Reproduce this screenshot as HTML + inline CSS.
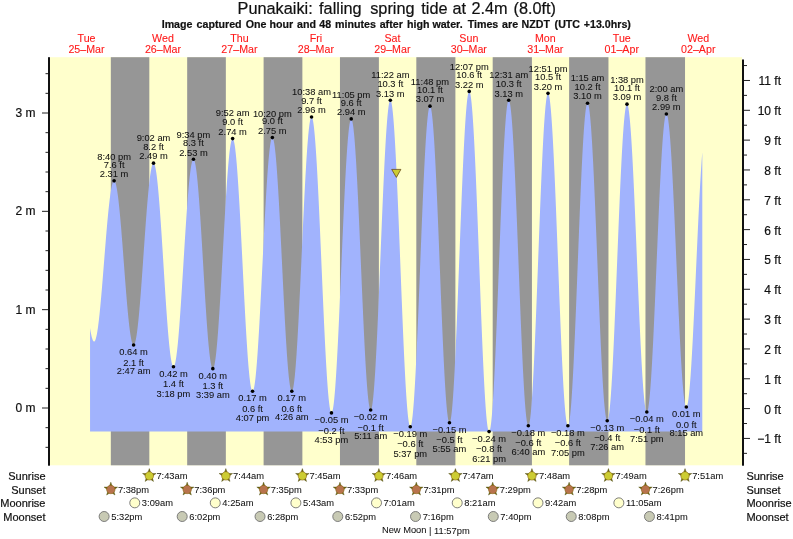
<!DOCTYPE html>
<html><head><meta charset="utf-8"><title>Punakaiki tide times</title>
<style>html,body{margin:0;padding:0;background:#fff}svg{display:block}text{font-family:"Liberation Sans",Arial,Helvetica,sans-serif;fill:#111;stroke:#111;stroke-width:0.2px}.t7{font-size:9.33px;stroke-width:0.05px}.t8{font-size:10.67px}.t9{font-size:12px}.red{fill:#ff1a1a;stroke:#ff1a1a;stroke-width:0.1px}</style></head><body>
<svg width="793" height="539" viewBox="0 0 793 539">
<rect width="793" height="539" fill="#fff"/>
<rect x="50" y="57.2" width="692" height="408.1" fill="#ffffcc"/>
<rect x="110.82" y="57.2" width="38.50" height="408.1" fill="#969696"/>
<rect x="187.18" y="57.2" width="38.66" height="408.1" fill="#969696"/>
<rect x="263.60" y="57.2" width="38.77" height="408.1" fill="#969696"/>
<rect x="339.96" y="57.2" width="38.93" height="408.1" fill="#969696"/>
<rect x="416.32" y="57.2" width="39.08" height="408.1" fill="#969696"/>
<rect x="492.69" y="57.2" width="39.24" height="408.1" fill="#969696"/>
<rect x="569.11" y="57.2" width="39.35" height="408.1" fill="#969696"/>
<rect x="645.47" y="57.2" width="39.56" height="408.1" fill="#969696"/>
<path d="M90.05,431.50L90.05,328.12L90.30,329.68L90.55,331.16L90.80,332.54L91.05,333.84L91.30,335.04L91.55,336.14L91.80,337.15L92.05,338.06L92.30,338.86L92.55,339.57L92.80,340.17L93.05,340.66L93.30,341.06L93.55,341.34L93.80,341.52L94.05,341.60L94.30,341.56L94.55,341.40L94.80,341.12L95.05,340.71L95.30,340.18L95.55,339.53L95.80,338.75L96.05,337.86L96.30,336.85L96.55,335.73L96.80,334.49L97.05,333.13L97.30,331.67L97.55,330.09L97.80,328.42L98.05,326.63L98.30,324.75L98.55,322.77L98.80,320.69L99.05,318.52L99.30,316.27L99.55,313.93L99.80,311.51L100.05,309.01L100.30,306.43L100.55,303.79L100.80,301.08L101.05,298.31L101.30,295.49L101.55,292.61L101.80,289.68L102.05,286.71L102.30,283.70L102.55,280.65L102.80,277.58L103.05,274.48L103.30,271.35L103.55,268.22L103.80,265.07L104.05,261.92L104.30,258.76L104.55,255.61L104.80,252.47L105.05,249.34L105.30,246.23L105.55,243.15L105.80,240.09L106.05,237.06L106.30,234.07L106.55,231.12L106.80,228.22L107.05,225.37L107.30,222.58L107.55,219.84L107.80,217.17L108.05,214.57L108.30,212.03L108.55,209.58L108.80,207.20L109.05,204.91L109.30,202.70L109.55,200.58L109.80,198.56L110.05,196.64L110.30,194.81L110.55,193.08L110.80,191.46L111.05,189.95L111.30,188.55L111.55,187.26L111.80,186.08L112.05,185.02L112.30,184.08L112.55,183.25L112.80,182.55L113.05,181.97L113.30,181.51L113.55,181.17L113.80,180.95L114.05,180.86L114.30,180.90L114.55,181.06L114.80,181.37L115.05,181.80L115.30,182.37L115.55,183.06L115.80,183.89L116.05,184.84L116.30,185.92L116.55,187.13L116.80,188.46L117.05,189.91L117.30,191.48L117.55,193.17L117.80,194.97L118.05,196.87L118.30,198.89L118.55,201.01L118.80,203.23L119.05,205.55L119.30,207.96L119.55,210.46L119.80,213.05L120.05,215.72L120.30,218.46L120.55,221.28L120.80,224.16L121.05,227.11L121.30,230.11L121.55,233.17L121.80,236.28L122.05,239.42L122.30,242.61L122.55,245.83L122.80,249.08L123.05,252.35L123.30,255.64L123.55,258.94L123.80,262.25L124.05,265.56L124.30,268.86L124.55,272.16L124.80,275.44L125.05,278.70L125.30,281.93L125.55,285.13L125.80,288.30L126.05,291.43L126.30,294.51L126.55,297.54L126.80,300.51L127.05,303.42L127.30,306.26L127.55,309.04L127.80,311.74L128.05,314.36L128.30,316.90L128.55,319.35L128.80,321.71L129.05,323.97L129.30,326.14L129.55,328.20L129.80,330.15L130.05,332.00L130.30,333.73L130.55,335.35L130.80,336.86L131.05,338.24L131.30,339.50L131.55,340.63L131.80,341.64L132.05,342.52L132.30,343.28L132.55,343.90L132.80,344.39L133.05,344.75L133.30,344.97L133.55,345.07L133.80,345.02L134.05,344.84L134.30,344.51L134.55,344.05L134.80,343.44L135.05,342.69L135.30,341.81L135.55,340.79L135.80,339.64L136.05,338.35L136.30,336.93L136.55,335.39L136.80,333.71L137.05,331.91L137.30,330.00L137.55,327.96L137.80,325.81L138.05,323.55L138.30,321.18L138.55,318.70L138.80,316.13L139.05,313.45L139.30,310.69L139.55,307.84L139.80,304.90L140.05,301.89L140.30,298.80L140.55,295.64L140.80,292.42L141.05,289.13L141.30,285.80L141.55,282.41L141.80,278.98L142.05,275.51L142.30,272.01L142.55,268.48L142.80,264.93L143.05,261.36L143.30,257.78L143.55,254.19L143.80,250.61L144.05,247.02L144.30,243.45L144.55,239.90L144.80,236.37L145.05,232.87L145.30,229.40L145.55,225.96L145.80,222.58L146.05,219.24L146.30,215.95L146.55,212.73L146.80,209.56L147.05,206.47L147.30,203.45L147.55,200.51L147.80,197.66L148.05,194.89L148.30,192.22L148.55,189.64L148.80,187.16L149.05,184.78L149.30,182.51L149.55,180.36L149.80,178.32L150.05,176.39L150.30,174.59L150.55,172.91L150.80,171.36L151.05,169.94L151.30,168.64L151.55,167.48L151.80,166.46L152.05,165.57L152.30,164.82L152.55,164.20L152.80,163.73L153.05,163.40L153.30,163.21L153.55,163.16L153.80,163.26L154.05,163.52L154.30,163.94L154.55,164.51L154.80,165.24L155.05,166.12L155.30,167.16L155.55,168.34L155.80,169.68L156.05,171.16L156.30,172.79L156.55,174.56L156.80,176.47L157.05,178.52L157.30,180.70L157.55,183.01L157.80,185.45L158.05,188.01L158.30,190.69L158.55,193.49L158.80,196.39L159.05,199.40L159.30,202.52L159.55,205.73L159.80,209.03L160.05,212.41L160.30,215.88L160.55,219.43L160.80,223.04L161.05,226.72L161.30,230.46L161.55,234.25L161.80,238.09L162.05,241.97L162.30,245.89L162.55,249.84L162.80,253.81L163.05,257.79L163.30,261.79L163.55,265.79L163.80,269.80L164.05,273.79L164.30,277.77L164.55,281.73L164.80,285.66L165.05,289.57L165.30,293.43L165.55,297.25L165.80,301.02L166.05,304.73L166.30,308.39L166.55,311.97L166.80,315.48L167.05,318.92L167.30,322.27L167.55,325.53L167.80,328.70L168.05,331.77L168.30,334.74L168.55,337.59L168.80,340.34L169.05,342.97L169.30,345.48L169.55,347.86L169.80,350.12L170.05,352.24L170.30,354.23L170.55,356.08L170.80,357.79L171.05,359.36L171.30,360.78L171.55,362.05L171.80,363.17L172.05,364.14L172.30,364.95L172.55,365.61L172.80,366.12L173.05,366.47L173.30,366.66L173.55,366.70L173.80,366.57L174.05,366.28L174.30,365.84L174.55,365.23L174.80,364.47L175.05,363.55L175.30,362.48L175.55,361.25L175.80,359.86L176.05,358.33L176.30,356.65L176.55,354.83L176.80,352.86L177.05,350.76L177.30,348.52L177.55,346.14L177.80,343.64L178.05,341.02L178.30,338.27L178.55,335.40L178.80,332.43L179.05,329.35L179.30,326.16L179.55,322.87L179.80,319.50L180.05,316.03L180.30,312.49L180.55,308.86L180.80,305.17L181.05,301.41L181.30,297.59L181.55,293.72L181.80,289.80L182.05,285.84L182.30,281.84L182.55,277.82L182.80,273.77L183.05,269.70L183.30,265.63L183.55,261.55L183.80,257.47L184.05,253.40L184.30,249.34L184.55,245.31L184.80,241.30L185.05,237.33L185.30,233.40L185.55,229.51L185.80,225.68L186.05,221.90L186.30,218.18L186.55,214.54L186.80,210.97L187.05,207.48L187.30,204.07L187.55,200.76L187.80,197.54L188.05,194.43L188.30,191.42L188.55,188.52L188.80,185.74L189.05,183.07L189.30,180.53L189.55,178.12L189.80,175.84L190.05,173.69L190.30,171.68L190.55,169.81L190.80,168.09L191.05,166.51L191.30,165.09L191.55,163.81L191.80,162.69L192.05,161.72L192.30,160.91L192.55,160.26L192.80,159.76L193.05,159.43L193.30,159.25L193.55,159.24L193.80,159.40L194.05,159.73L194.30,160.22L194.55,160.89L194.80,161.73L195.05,162.74L195.30,163.91L195.55,165.25L195.80,166.75L196.05,168.41L196.30,170.22L196.55,172.19L196.80,174.31L197.05,176.58L197.30,178.99L197.55,181.54L197.80,184.23L198.05,187.04L198.30,189.99L198.55,193.05L198.80,196.23L199.05,199.52L199.30,202.92L199.55,206.42L199.80,210.01L200.05,213.69L200.30,217.45L200.55,221.29L200.80,225.20L201.05,229.17L201.30,233.20L201.55,237.28L201.80,241.41L202.05,245.57L202.30,249.76L202.55,253.98L202.80,258.21L203.05,262.45L203.30,266.69L203.55,270.93L203.80,275.16L204.05,279.36L204.30,283.55L204.55,287.70L204.80,291.81L205.05,295.88L205.30,299.89L205.55,303.85L205.80,307.74L206.05,311.55L206.30,315.29L206.55,318.95L206.80,322.51L207.05,325.98L207.30,329.35L207.55,332.61L207.80,335.75L208.05,338.78L208.30,341.69L208.55,344.47L208.80,347.11L209.05,349.62L209.30,351.99L209.55,354.22L209.80,356.29L210.05,358.22L210.30,359.99L210.55,361.60L210.80,363.05L211.05,364.34L211.30,365.47L211.55,366.42L211.80,367.21L212.05,367.83L212.30,368.28L212.55,368.56L212.80,368.67L213.05,368.60L213.30,368.35L213.55,367.92L213.80,367.31L214.05,366.52L214.30,365.55L214.55,364.41L214.80,363.10L215.05,361.61L215.30,359.95L215.55,358.13L215.80,356.14L216.05,353.99L216.30,351.68L216.55,349.22L216.80,346.60L217.05,343.84L217.30,340.94L217.55,337.91L217.80,334.74L218.05,331.44L218.30,328.02L218.55,324.48L218.80,320.83L219.05,317.08L219.30,313.22L219.55,309.28L219.80,305.24L220.05,301.13L220.30,296.94L220.55,292.68L220.80,288.36L221.05,283.98L221.30,279.56L221.55,275.09L221.80,270.60L222.05,266.07L222.30,261.53L222.55,256.97L222.80,252.41L223.05,247.85L223.30,243.30L223.55,238.77L223.80,234.26L224.05,229.78L224.30,225.34L224.55,220.94L224.80,216.59L225.05,212.30L225.30,208.08L225.55,203.93L225.80,199.85L226.05,195.86L226.30,191.96L226.55,188.16L226.80,184.46L227.05,180.87L227.30,177.40L227.55,174.04L227.80,170.81L228.05,167.71L228.30,164.74L228.55,161.92L228.80,159.24L229.05,156.70L229.30,154.32L229.55,152.10L229.80,150.03L230.05,148.13L230.30,146.39L230.55,144.82L230.80,143.43L231.05,142.20L231.30,141.16L231.55,140.28L231.80,139.59L232.05,139.08L232.30,138.74L232.55,138.59L232.80,138.62L233.05,138.84L233.30,139.26L233.55,139.88L233.80,140.69L234.05,141.70L234.30,142.90L234.55,144.28L234.80,145.86L235.05,147.62L235.30,149.56L235.55,151.68L235.80,153.98L236.05,156.45L236.30,159.08L236.55,161.89L236.80,164.85L237.05,167.97L237.30,171.24L237.55,174.66L237.80,178.21L238.05,181.90L238.30,185.72L238.55,189.67L238.80,193.73L239.05,197.90L239.30,202.17L239.55,206.55L239.80,211.01L240.05,215.56L240.30,220.18L240.55,224.88L240.80,229.63L241.05,234.44L241.30,239.30L241.55,244.20L241.80,249.13L242.05,254.09L242.30,259.06L242.55,264.04L242.80,269.02L243.05,274.00L243.30,278.96L243.55,283.90L243.80,288.81L244.05,293.68L244.30,298.51L244.55,303.29L244.80,308.01L245.05,312.66L245.30,317.23L245.55,321.73L245.80,326.13L246.05,330.44L246.30,334.65L246.55,338.75L246.80,342.74L247.05,346.61L247.30,350.34L247.55,353.95L247.80,357.41L248.05,360.74L248.30,363.91L248.55,366.93L248.80,369.79L249.05,372.49L249.30,375.02L249.55,377.38L249.80,379.56L250.05,381.57L250.30,383.40L250.55,385.04L250.80,386.49L251.05,387.75L251.30,388.83L251.55,389.71L251.80,390.40L252.05,390.89L252.30,391.18L252.55,391.28L252.80,391.19L253.05,390.89L253.30,390.39L253.55,389.70L253.80,388.81L254.05,387.72L254.30,386.44L254.55,384.97L254.80,383.30L255.05,381.46L255.30,379.42L255.55,377.21L255.80,374.82L256.05,372.26L256.30,369.52L256.55,366.62L256.80,363.56L257.05,360.35L257.30,356.98L257.55,353.47L257.80,349.82L258.05,346.03L258.30,342.12L258.55,338.08L258.80,333.93L259.05,329.67L259.30,325.31L259.55,320.85L259.80,316.30L260.05,311.67L260.30,306.97L260.55,302.20L260.80,297.37L261.05,292.48L261.30,287.56L261.55,282.60L261.80,277.61L262.05,272.59L262.30,267.57L262.55,262.54L262.80,257.51L263.05,252.50L263.30,247.50L263.55,242.53L263.80,237.60L264.05,232.70L264.30,227.86L264.55,223.07L264.80,218.35L265.05,213.71L265.30,209.14L265.55,204.65L265.80,200.27L266.05,195.98L266.30,191.80L266.55,187.74L266.80,183.79L267.05,179.97L267.30,176.29L267.55,172.74L267.80,169.34L268.05,166.09L268.30,162.99L268.55,160.05L268.80,157.28L269.05,154.67L269.30,152.24L269.55,149.98L269.80,147.90L270.05,146.01L270.30,144.30L270.55,142.78L270.80,141.45L271.05,140.32L271.30,139.38L271.55,138.64L271.80,138.09L272.05,137.75L272.30,137.60L272.55,137.65L272.80,137.91L273.05,138.38L273.30,139.06L273.55,139.93L273.80,141.01L274.05,142.30L274.30,143.78L274.55,145.46L274.80,147.33L275.05,149.40L275.30,151.65L275.55,154.09L275.80,156.71L276.05,159.50L276.30,162.46L276.55,165.59L276.80,168.89L277.05,172.33L277.30,175.93L277.55,179.68L277.80,183.56L278.05,187.57L278.30,191.71L278.55,195.97L278.80,200.34L279.05,204.81L279.30,209.38L279.55,214.04L279.80,218.79L280.05,223.61L280.30,228.49L280.55,233.43L280.80,238.43L281.05,243.47L281.30,248.54L281.55,253.63L281.80,258.75L282.05,263.87L282.30,269.00L282.55,274.11L282.80,279.21L283.05,284.29L283.30,289.34L283.55,294.34L283.80,299.30L284.05,304.20L284.30,309.03L284.55,313.79L284.80,318.47L285.05,323.06L285.30,327.56L285.55,331.95L285.80,336.24L286.05,340.40L286.30,344.44L286.55,348.35L286.80,352.13L287.05,355.76L287.30,359.24L287.55,362.57L287.80,365.74L288.05,368.74L288.30,371.57L288.55,374.22L288.80,376.70L289.05,379.00L289.30,381.10L289.55,383.02L289.80,384.74L290.05,386.27L290.30,387.59L290.55,388.72L290.80,389.64L291.05,390.36L291.30,390.88L291.55,391.18L291.80,391.28L292.05,391.17L292.30,390.84L292.55,390.30L292.80,389.54L293.05,388.56L293.30,387.38L293.55,385.98L293.80,384.37L294.05,382.56L294.30,380.55L294.55,378.33L294.80,375.92L295.05,373.32L295.30,370.53L295.55,367.55L295.80,364.40L296.05,361.07L296.30,357.57L296.55,353.91L296.80,350.09L297.05,346.12L297.30,342.00L297.55,337.75L297.80,333.36L298.05,328.85L298.30,324.22L298.55,319.47L298.80,314.63L299.05,309.69L299.30,304.66L299.55,299.55L299.80,294.37L300.05,289.13L300.30,283.83L300.55,278.48L300.80,273.10L301.05,267.68L301.30,262.25L301.55,256.80L301.80,251.35L302.05,245.90L302.30,240.46L302.55,235.05L302.80,229.66L303.05,224.32L303.30,219.02L303.55,213.78L303.80,208.60L304.05,203.49L304.30,198.46L304.55,193.52L304.80,188.68L305.05,183.94L305.30,179.31L305.55,174.80L305.80,170.41L306.05,166.16L306.30,162.05L306.55,158.08L306.80,154.26L307.05,150.60L307.30,147.11L307.55,143.78L307.80,140.63L308.05,137.65L308.30,134.87L308.55,132.26L308.80,129.86L309.05,127.65L309.30,125.63L309.55,123.83L309.80,122.22L310.05,120.83L310.30,119.65L310.55,118.68L310.80,117.92L311.05,117.38L311.30,117.05L311.55,116.94L311.80,117.06L312.05,117.40L312.30,117.98L312.55,118.78L312.80,119.81L313.05,121.06L313.30,122.54L313.55,124.24L313.80,126.16L314.05,128.30L314.30,130.65L314.55,133.20L314.80,135.97L315.05,138.93L315.30,142.09L315.55,145.44L315.80,148.97L316.05,152.69L316.30,156.58L316.55,160.64L316.80,164.86L317.05,169.23L317.30,173.76L317.55,178.42L317.80,183.23L318.05,188.15L318.30,193.20L318.55,198.36L318.80,203.63L319.05,208.98L319.30,214.43L319.55,219.95L319.80,225.55L320.05,231.20L320.30,236.91L320.55,242.66L320.80,248.45L321.05,254.26L321.30,260.09L321.55,265.92L321.80,271.76L322.05,277.58L322.30,283.38L322.55,289.16L322.80,294.90L323.05,300.59L323.30,306.22L323.55,311.79L323.80,317.29L324.05,322.71L324.30,328.04L324.55,333.26L324.80,338.39L325.05,343.40L325.30,348.28L325.55,353.04L325.80,357.66L326.05,362.13L326.30,366.46L326.55,370.62L326.80,374.63L327.05,378.46L327.30,382.11L327.55,385.58L327.80,388.87L328.05,391.96L328.30,394.86L328.55,397.55L328.80,400.03L329.05,402.31L329.30,404.37L329.55,406.22L329.80,407.84L330.05,409.25L330.30,410.43L330.55,411.38L330.80,412.10L331.05,412.60L331.30,412.87L331.55,412.90L331.80,412.71L332.05,412.28L332.30,411.62L332.55,410.73L332.80,409.61L333.05,408.27L333.30,406.70L333.55,404.91L333.80,402.89L334.05,400.66L334.30,398.22L334.55,395.57L334.80,392.72L335.05,389.66L335.30,386.41L335.55,382.97L335.80,379.34L336.05,375.53L336.30,371.55L336.55,367.41L336.80,363.10L337.05,358.64L337.30,354.03L337.55,349.28L337.80,344.41L338.05,339.40L338.30,334.28L338.55,329.06L338.80,323.73L339.05,318.31L339.30,312.81L339.55,307.24L339.80,301.60L340.05,295.90L340.30,290.16L340.55,284.38L340.80,278.57L341.05,272.73L341.30,266.89L341.55,261.05L341.80,255.21L342.05,249.39L342.30,243.60L342.55,237.84L342.80,232.13L343.05,226.47L343.30,220.87L343.55,215.35L343.80,209.90L344.05,204.54L344.30,199.28L344.55,194.13L344.80,189.08L345.05,184.16L345.30,179.37L345.55,174.72L345.80,170.21L346.05,165.85L346.30,161.65L346.55,157.61L346.80,153.74L347.05,150.06L347.30,146.55L347.55,143.23L347.80,140.11L348.05,137.19L348.30,134.47L348.55,131.96L348.80,129.66L349.05,127.57L349.30,125.70L349.55,124.06L349.80,122.64L350.05,121.44L350.30,120.48L350.55,119.74L350.80,119.24L351.05,118.96L351.30,118.92L351.55,119.12L351.80,119.55L352.05,120.22L352.30,121.12L352.55,122.26L352.80,123.63L353.05,125.24L353.30,127.06L353.55,129.12L353.80,131.39L354.05,133.88L354.30,136.58L354.55,139.50L354.80,142.61L355.05,145.93L355.30,149.44L355.55,153.13L355.80,157.01L356.05,161.06L356.30,165.29L356.55,169.67L356.80,174.21L357.05,178.90L357.30,183.72L357.55,188.68L357.80,193.76L358.05,198.96L358.30,204.26L358.55,209.66L358.80,215.16L359.05,220.73L359.30,226.37L359.55,232.08L359.80,237.84L360.05,243.64L360.30,249.47L360.55,255.33L360.80,261.21L361.05,267.09L361.30,272.96L361.55,278.83L361.80,284.66L362.05,290.47L362.30,296.23L362.55,301.94L362.80,307.59L363.05,313.17L363.30,318.67L363.55,324.08L363.80,329.40L364.05,334.61L364.30,339.70L364.55,344.67L364.80,349.51L365.05,354.21L365.30,358.76L365.55,363.16L365.80,367.40L366.05,371.47L366.30,375.37L366.55,379.08L366.80,382.61L367.05,385.95L367.30,389.08L367.55,392.02L367.80,394.74L368.05,397.25L368.30,399.55L368.55,401.62L368.80,403.47L369.05,405.09L369.30,406.49L369.55,407.65L369.80,408.58L370.05,409.27L370.30,409.73L370.55,409.95L370.80,409.93L371.05,409.66L371.30,409.15L371.55,408.39L371.80,407.39L372.05,406.15L372.30,404.67L372.55,402.95L372.80,401.00L373.05,398.81L373.30,396.40L373.55,393.76L373.80,390.90L374.05,387.83L374.30,384.54L374.55,381.05L374.80,377.36L375.05,373.47L375.30,369.40L375.55,365.14L375.80,360.71L376.05,356.11L376.30,351.36L376.55,346.44L376.80,341.39L377.05,336.19L377.30,330.87L377.55,325.43L377.80,319.87L378.05,314.21L378.30,308.46L378.55,302.63L378.80,296.71L379.05,290.74L379.30,284.70L379.55,278.62L379.80,272.50L380.05,266.35L380.30,260.19L380.55,254.02L380.80,247.84L381.05,241.68L381.30,235.55L381.55,229.44L381.80,223.37L382.05,217.36L382.30,211.40L382.55,205.51L382.80,199.71L383.05,193.99L383.30,188.36L383.55,182.85L383.80,177.44L384.05,172.17L384.30,167.02L384.55,162.01L384.80,157.15L385.05,152.45L385.30,147.91L385.55,143.54L385.80,139.35L386.05,135.34L386.30,131.52L386.55,127.90L386.80,124.48L387.05,121.27L387.30,118.27L387.55,115.48L387.80,112.92L388.05,110.59L388.30,108.48L388.55,106.61L388.80,104.98L389.05,103.58L389.30,102.42L389.55,101.51L389.80,100.84L390.05,100.41L390.30,100.23L390.55,100.30L390.80,100.63L391.05,101.20L391.30,102.03L391.55,103.11L391.80,104.44L392.05,106.01L392.30,107.84L392.55,109.90L392.80,112.20L393.05,114.74L393.30,117.51L393.55,120.50L393.80,123.72L394.05,127.15L394.30,130.80L394.55,134.65L394.80,138.71L395.05,142.95L395.30,147.39L395.55,152.01L395.80,156.79L396.05,161.75L396.30,166.86L396.55,172.13L396.80,177.53L397.05,183.07L397.30,188.73L397.55,194.51L397.80,200.40L398.05,206.39L398.30,212.46L398.55,218.61L398.80,224.84L399.05,231.12L399.30,237.45L399.55,243.83L399.80,250.23L400.05,256.66L400.30,263.09L400.55,269.53L400.80,275.96L401.05,282.36L401.30,288.74L401.55,295.08L401.80,301.37L402.05,307.60L402.30,313.76L402.55,319.84L402.80,325.84L403.05,331.74L403.30,337.53L403.55,343.21L403.80,348.76L404.05,354.18L404.30,359.46L404.55,364.59L404.80,369.57L405.05,374.37L405.30,379.01L405.55,383.46L405.80,387.73L406.05,391.81L406.30,395.69L406.55,399.36L406.80,402.82L407.05,406.06L407.30,409.08L407.55,411.87L407.80,414.44L408.05,416.76L408.30,418.85L408.55,420.70L408.80,422.31L409.05,423.66L409.30,424.77L409.55,425.63L409.80,426.23L410.05,426.58L410.30,426.68L410.55,426.52L410.80,426.11L411.05,425.45L411.30,424.53L411.55,423.36L411.80,421.94L412.05,420.28L412.30,418.37L412.55,416.22L412.80,413.83L413.05,411.20L413.30,408.35L413.55,405.27L413.80,401.97L414.05,398.45L414.30,394.73L414.55,390.80L414.80,386.67L415.05,382.36L415.30,377.85L415.55,373.17L415.80,368.32L416.05,363.31L416.30,358.15L416.55,352.84L416.80,347.39L417.05,341.81L417.30,336.12L417.55,330.31L417.80,324.40L418.05,318.40L418.30,312.32L418.55,306.16L418.80,299.94L419.05,293.67L419.30,287.35L419.55,281.00L419.80,274.63L420.05,268.24L420.30,261.85L420.55,255.47L420.80,249.11L421.05,242.77L421.30,236.47L421.55,230.22L421.80,224.03L422.05,217.90L422.30,211.85L422.55,205.89L422.80,200.02L423.05,194.26L423.30,188.61L423.55,183.09L423.80,177.70L424.05,172.45L424.30,167.35L424.55,162.41L424.80,157.63L425.05,153.02L425.30,148.60L425.55,144.36L425.80,140.32L426.05,136.47L426.30,132.84L426.55,129.41L426.80,126.21L427.05,123.22L427.30,120.46L427.55,117.94L427.80,115.65L428.05,113.60L428.30,111.79L428.55,110.23L428.80,108.92L429.05,107.86L429.30,107.05L429.55,106.49L429.80,106.19L430.05,106.14L430.30,106.35L430.55,106.81L430.80,107.53L431.05,108.51L431.30,109.74L431.55,111.22L431.80,112.94L432.05,114.92L432.30,117.14L432.55,119.59L432.80,122.29L433.05,125.21L433.30,128.36L433.55,131.73L433.80,135.31L434.05,139.11L434.30,143.10L434.55,147.30L434.80,151.69L435.05,156.25L435.30,161.00L435.55,165.91L435.80,170.98L436.05,176.21L436.30,181.57L436.55,187.08L436.80,192.70L437.05,198.45L437.30,204.30L437.55,210.25L437.80,216.28L438.05,222.40L438.30,228.58L438.55,234.82L438.80,241.11L439.05,247.44L439.30,253.80L439.55,260.17L439.80,266.55L440.05,272.92L440.30,279.28L440.55,285.62L440.80,291.93L441.05,298.19L441.30,304.39L441.55,310.53L441.80,316.59L442.05,322.57L442.30,328.46L442.55,334.24L442.80,339.91L443.05,345.45L443.30,350.87L443.55,356.14L443.80,361.26L444.05,366.23L444.30,371.03L444.55,375.66L444.80,380.11L445.05,384.37L445.30,388.44L445.55,392.30L445.80,395.96L446.05,399.40L446.30,402.63L446.55,405.63L446.80,408.40L447.05,410.93L447.30,413.23L447.55,415.29L447.80,417.10L448.05,418.67L448.30,419.98L448.55,421.04L448.80,421.85L449.05,422.40L449.30,422.70L449.55,422.73L449.80,422.51L450.05,422.03L450.30,421.28L450.55,420.28L450.80,419.01L451.05,417.49L451.30,415.72L451.55,413.70L451.80,411.43L452.05,408.91L452.30,406.16L452.55,403.17L452.80,399.95L453.05,396.50L453.30,392.83L453.55,388.95L453.80,384.86L454.05,380.57L454.30,376.08L454.55,371.41L454.80,366.55L455.05,361.52L455.30,356.33L455.55,350.97L455.80,345.48L456.05,339.84L456.30,334.07L456.55,328.17L456.80,322.17L457.05,316.06L457.30,309.86L457.55,303.58L457.80,297.22L458.05,290.80L458.30,284.32L458.55,277.81L458.80,271.26L459.05,264.68L459.30,258.10L459.55,251.51L459.80,244.94L460.05,238.38L460.30,231.85L460.55,225.36L460.80,218.92L461.05,212.54L461.30,206.24L461.55,200.01L461.80,193.87L462.05,187.83L462.30,181.90L462.55,176.09L462.80,170.41L463.05,164.87L463.30,159.47L463.55,154.22L463.80,149.14L464.05,144.23L464.30,139.50L464.55,134.95L464.80,130.60L465.05,126.44L465.30,122.49L465.55,118.76L465.80,115.24L466.05,111.95L466.30,108.88L466.55,106.05L466.80,103.46L467.05,101.12L467.30,99.02L467.55,97.16L467.80,95.56L468.05,94.22L468.30,93.14L468.55,92.31L468.80,91.74L469.05,91.44L469.30,91.39L469.55,91.61L469.80,92.10L470.05,92.85L470.30,93.87L470.55,95.15L470.80,96.68L471.05,98.48L471.30,100.53L471.55,102.83L471.80,105.38L472.05,108.18L472.30,111.21L472.55,114.48L472.80,117.98L473.05,121.70L473.30,125.64L473.55,129.80L473.80,134.16L474.05,138.72L474.30,143.47L474.55,148.40L474.80,153.52L475.05,158.80L475.30,164.24L475.55,169.83L475.80,175.57L476.05,181.44L476.30,187.44L476.55,193.55L476.80,199.77L477.05,206.09L477.30,212.49L477.55,218.97L477.80,225.51L478.05,232.11L478.30,238.76L478.55,245.44L478.80,252.15L479.05,258.87L479.30,265.60L479.55,272.32L479.80,279.02L480.05,285.70L480.30,292.34L480.55,298.93L480.80,305.46L481.05,311.92L481.30,318.30L481.55,324.60L481.80,330.79L482.05,336.88L482.30,342.85L482.55,348.69L482.80,354.40L483.05,359.96L483.30,365.37L483.55,370.61L483.80,375.69L484.05,380.58L484.30,385.29L484.55,389.81L484.80,394.12L485.05,398.23L485.30,402.12L485.55,405.80L485.80,409.24L486.05,412.46L486.30,415.44L486.55,418.18L486.80,420.68L487.05,422.92L487.30,424.92L487.55,426.66L487.80,428.14L488.05,429.36L488.30,430.31L488.55,431.01L488.80,431.44L489.05,431.60L489.30,431.49L489.55,431.13L489.80,430.50L490.05,429.60L490.30,428.45L490.55,427.03L490.80,425.36L491.05,423.43L491.30,421.25L491.55,418.82L491.80,416.15L492.05,413.24L492.30,410.09L492.55,406.71L492.80,403.11L493.05,399.29L493.30,395.25L493.55,391.01L493.80,386.57L494.05,381.94L494.30,377.12L494.55,372.12L494.80,366.96L495.05,361.63L495.30,356.15L495.55,350.52L495.80,344.76L496.05,338.87L496.30,332.87L496.55,326.76L496.80,320.55L497.05,314.26L497.30,307.89L497.55,301.45L497.80,294.95L498.05,288.41L498.30,281.84L498.55,275.23L498.80,268.61L499.05,261.99L499.30,255.38L499.55,248.78L499.80,242.20L500.05,235.67L500.30,229.18L500.55,222.76L500.80,216.40L501.05,210.12L501.30,203.93L501.55,197.84L501.80,191.86L502.05,185.99L502.30,180.26L502.55,174.66L502.80,169.21L503.05,163.91L503.30,158.77L503.55,153.81L503.80,149.02L504.05,144.42L504.30,140.02L504.55,135.81L504.80,131.82L505.05,128.03L505.30,124.47L505.55,121.14L505.80,118.03L506.05,115.17L506.30,112.54L506.55,110.16L506.80,108.02L507.05,106.14L507.30,104.52L507.55,103.15L507.80,102.04L508.05,101.19L508.30,100.61L508.55,100.29L508.80,100.24L509.05,100.45L509.30,100.92L509.55,101.64L509.80,102.63L510.05,103.88L510.30,105.38L510.55,107.13L510.80,109.14L511.05,111.39L511.30,113.89L511.55,116.62L511.80,119.59L512.05,122.79L512.30,126.22L512.55,129.86L512.80,133.72L513.05,137.79L513.30,142.05L513.55,146.51L513.80,151.16L514.05,155.99L514.30,160.99L514.55,166.16L514.80,171.47L515.05,176.94L515.30,182.55L515.55,188.28L515.80,194.13L516.05,200.10L516.30,206.16L516.55,212.32L516.80,218.56L517.05,224.86L517.30,231.23L517.55,237.66L517.80,244.12L518.05,250.61L518.30,257.12L518.55,263.64L518.80,270.16L519.05,276.67L519.30,283.16L519.55,289.61L519.80,296.02L520.05,302.38L520.30,308.68L520.55,314.90L520.80,321.04L521.05,327.08L521.30,333.02L521.55,338.85L521.80,344.56L522.05,350.14L522.30,355.57L522.55,360.86L522.80,365.99L523.05,370.96L523.30,375.75L523.55,380.36L523.80,384.78L524.05,389.01L524.30,393.03L524.55,396.84L524.80,400.44L525.05,403.82L525.30,406.97L525.55,409.90L525.80,412.58L526.05,415.03L526.30,417.23L526.55,419.18L526.80,420.88L527.05,422.33L527.30,423.52L527.55,424.46L527.80,425.13L528.05,425.55L528.30,425.70L528.55,425.59L528.80,425.22L529.05,424.58L529.30,423.68L529.55,422.52L529.80,421.10L530.05,419.43L530.30,417.50L530.55,415.32L530.80,412.89L531.05,410.22L531.30,407.31L531.55,404.16L531.80,400.79L532.05,397.19L532.30,393.37L532.55,389.34L532.80,385.10L533.05,380.66L533.30,376.03L533.55,371.22L533.80,366.22L534.05,361.06L534.30,355.74L534.55,350.26L534.80,344.64L535.05,338.89L535.30,333.00L535.55,327.01L535.80,320.90L536.05,314.70L536.30,308.41L536.55,302.04L536.80,295.60L537.05,289.11L537.30,282.57L537.55,275.99L537.80,269.39L538.05,262.77L538.30,256.14L538.55,249.52L538.80,242.92L539.05,236.34L539.30,229.81L539.55,223.31L539.80,216.88L540.05,210.51L540.30,204.22L540.55,198.02L540.80,191.92L541.05,185.92L541.30,180.04L541.55,174.29L541.80,168.67L542.05,163.20L542.30,157.88L542.55,152.72L542.80,147.73L543.05,142.92L543.30,138.29L543.55,133.86L543.80,129.62L544.05,125.60L544.30,121.78L544.55,118.19L544.80,114.82L545.05,111.67L545.30,108.77L545.55,106.10L545.80,103.68L546.05,101.50L546.30,99.58L546.55,97.91L546.80,96.50L547.05,95.34L547.30,94.45L547.55,93.82L547.80,93.45L548.05,93.35L548.30,93.50L548.55,93.92L548.80,94.60L549.05,95.53L549.30,96.72L549.55,98.17L549.80,99.86L550.05,101.81L550.30,104.00L550.55,106.44L550.80,109.12L551.05,112.03L551.30,115.17L551.55,118.54L551.80,122.13L552.05,125.93L552.30,129.94L552.55,134.15L552.80,138.56L553.05,143.16L553.30,147.95L553.55,152.90L553.80,158.02L554.05,163.31L554.30,168.74L554.55,174.31L554.80,180.02L555.05,185.85L555.30,191.80L555.55,197.85L555.80,204.00L556.05,210.23L556.30,216.54L556.55,222.92L556.80,229.36L557.05,235.85L557.30,242.37L557.55,248.91L557.80,255.48L558.05,262.05L558.30,268.62L558.55,275.17L558.80,281.70L559.05,288.19L559.30,294.64L559.55,301.04L559.80,307.36L560.05,313.62L560.30,319.79L560.55,325.86L560.80,331.83L561.05,337.69L561.30,343.43L561.55,349.03L561.80,354.50L562.05,359.82L562.30,364.98L562.55,369.97L562.80,374.79L563.05,379.44L563.30,383.89L563.55,388.15L563.80,392.21L564.05,396.06L564.30,399.70L564.55,403.12L564.80,406.31L565.05,409.28L565.30,412.01L565.55,414.50L565.80,416.75L566.05,418.75L566.30,420.51L566.55,422.01L566.80,423.26L567.05,424.25L567.30,424.99L567.55,425.47L567.80,425.68L568.05,425.64L568.30,425.34L568.55,424.79L568.80,423.97L569.05,422.91L569.30,421.59L569.55,420.01L569.80,418.19L570.05,416.13L570.30,413.82L570.55,411.27L570.80,408.49L571.05,405.48L571.30,402.24L571.55,398.78L571.80,395.11L572.05,391.23L572.30,387.15L572.55,382.87L572.80,378.40L573.05,373.75L573.30,368.93L573.55,363.93L573.80,358.78L574.05,353.48L574.30,348.04L574.55,342.46L574.80,336.76L575.05,330.94L575.30,325.02L575.55,319.00L575.80,312.89L576.05,306.70L576.30,300.45L576.55,294.14L576.80,287.78L577.05,281.39L577.30,274.96L577.55,268.53L577.80,262.08L578.05,255.64L578.30,249.21L578.55,242.81L578.80,236.44L579.05,230.11L579.30,223.85L579.55,217.64L579.80,211.51L580.05,205.47L580.30,199.52L580.55,193.67L580.80,187.93L581.05,182.32L581.30,176.84L581.55,171.50L581.80,166.31L582.05,161.27L582.30,156.40L582.55,151.71L582.80,147.19L583.05,142.86L583.30,138.72L583.55,134.78L583.80,131.06L584.05,127.54L584.30,124.24L584.55,121.17L584.80,118.33L585.05,115.72L585.30,113.34L585.55,111.21L585.80,109.33L586.05,107.69L586.30,106.30L586.55,105.16L586.80,104.28L587.05,103.66L587.30,103.29L587.55,103.18L587.80,103.32L588.05,103.72L588.30,104.36L588.55,105.26L588.80,106.41L589.05,107.80L589.30,109.44L589.55,111.32L589.80,113.44L590.05,115.80L590.30,118.39L590.55,121.20L590.80,124.25L591.05,127.50L591.30,130.98L591.55,134.66L591.80,138.54L592.05,142.62L592.30,146.89L592.55,151.34L592.80,155.97L593.05,160.77L593.30,165.73L593.55,170.84L593.80,176.09L594.05,181.48L594.30,187.00L594.55,192.64L594.80,198.39L595.05,204.24L595.30,210.18L595.55,216.21L595.80,222.30L596.05,228.46L596.30,234.68L596.55,240.93L596.80,247.22L597.05,253.54L597.30,259.86L597.55,266.19L597.80,272.52L598.05,278.82L598.30,285.10L598.55,291.35L598.80,297.54L599.05,303.68L599.30,309.76L599.55,315.75L599.80,321.67L600.05,327.48L600.30,333.20L600.55,338.80L600.80,344.27L601.05,349.62L601.30,354.83L601.55,359.89L601.80,364.80L602.05,369.54L602.30,374.11L602.55,378.50L602.80,382.71L603.05,386.72L603.30,390.54L603.55,394.15L603.80,397.56L604.05,400.75L604.30,403.71L604.55,406.45L604.80,408.97L605.05,411.25L605.30,413.29L605.55,415.09L605.80,416.65L606.05,417.96L606.30,419.02L606.55,419.84L606.80,420.40L607.05,420.71L607.30,420.77L607.55,420.58L607.80,420.14L608.05,419.45L608.30,418.52L608.55,417.33L608.80,415.90L609.05,414.23L609.30,412.32L609.55,410.17L609.80,407.79L610.05,405.18L610.30,402.34L610.55,399.28L610.80,396.01L611.05,392.52L611.30,388.83L611.55,384.94L611.80,380.86L612.05,376.59L612.30,372.13L612.55,367.51L612.80,362.72L613.05,357.77L613.30,352.67L613.55,347.43L613.80,342.05L614.05,336.55L614.30,330.93L614.55,325.20L614.80,319.37L615.05,313.46L615.30,307.46L615.55,301.39L615.80,295.26L616.05,289.08L616.30,282.85L616.55,276.60L616.80,270.32L617.05,264.03L617.30,257.73L617.55,251.45L617.80,245.18L618.05,238.94L618.30,232.74L618.55,226.58L618.80,220.48L619.05,214.44L619.30,208.49L619.55,202.61L619.80,196.84L620.05,191.16L620.30,185.60L620.55,180.16L620.80,174.85L621.05,169.68L621.30,164.65L621.55,159.78L621.80,155.08L622.05,150.54L622.30,146.18L622.55,142.00L622.80,138.01L623.05,134.22L623.30,130.63L623.55,127.25L623.80,124.09L624.05,121.14L624.30,118.42L624.55,115.92L624.80,113.66L625.05,111.63L625.30,109.84L625.55,108.29L625.80,106.98L626.05,105.92L626.30,105.11L626.55,104.55L626.80,104.23L627.05,104.17L627.30,104.35L627.55,104.77L627.80,105.43L628.05,106.33L628.30,107.47L628.55,108.85L628.80,110.46L629.05,112.31L629.30,114.38L629.55,116.68L629.80,119.20L630.05,121.94L630.30,124.89L630.55,128.06L630.80,131.42L631.05,134.99L631.30,138.75L631.55,142.70L631.80,146.82L632.05,151.13L632.30,155.60L632.55,160.23L632.80,165.02L633.05,169.95L633.30,175.02L633.55,180.22L633.80,185.54L634.05,190.98L634.30,196.53L634.55,202.17L634.80,207.89L635.05,213.70L635.30,219.58L635.55,225.51L635.80,231.50L636.05,237.53L636.30,243.59L636.55,249.68L636.80,255.77L637.05,261.87L637.30,267.97L637.55,274.05L637.80,280.10L638.05,286.12L638.30,292.10L638.55,298.02L638.80,303.88L639.05,309.67L639.30,315.37L639.55,320.99L639.80,326.51L640.05,331.92L640.30,337.21L640.55,342.38L640.80,347.42L641.05,352.31L641.30,357.06L641.55,361.65L641.80,366.08L642.05,370.34L642.30,374.42L642.55,378.32L642.80,382.03L643.05,385.55L643.30,388.86L643.55,391.97L643.80,394.87L644.05,397.56L644.30,400.02L644.55,402.26L644.80,404.28L645.05,406.06L645.30,407.62L645.55,408.93L645.80,410.01L646.05,410.85L646.30,411.46L646.55,411.82L646.80,411.93L647.05,411.81L647.30,411.45L647.55,410.85L647.80,410.01L648.05,408.94L648.30,407.63L648.55,406.09L648.80,404.32L649.05,402.32L649.30,400.10L649.55,397.66L649.80,395.00L650.05,392.13L650.30,389.05L650.55,385.77L650.80,382.29L651.05,378.63L651.30,374.77L651.55,370.74L651.80,366.53L652.05,362.15L652.30,357.62L652.55,352.94L652.80,348.11L653.05,343.14L653.30,338.04L653.55,332.83L653.80,327.50L654.05,322.07L654.30,316.54L654.55,310.93L654.80,305.24L655.05,299.48L655.30,293.67L655.55,287.80L655.80,281.89L656.05,275.96L656.30,270.00L656.55,264.03L656.80,258.06L657.05,252.10L657.30,246.16L657.55,240.24L657.80,234.36L658.05,228.52L658.30,222.74L658.55,217.03L658.80,211.39L659.05,205.83L659.30,200.36L659.55,194.99L659.80,189.74L660.05,184.60L660.30,179.58L660.55,174.70L660.80,169.97L661.05,165.38L661.30,160.95L661.55,156.68L661.80,152.58L662.05,148.66L662.30,144.92L662.55,141.38L662.80,138.03L663.05,134.88L663.30,131.93L663.55,129.20L663.80,126.68L664.05,124.38L664.30,122.30L664.55,120.45L664.80,118.82L665.05,117.43L665.30,116.27L665.55,115.35L665.80,114.66L666.05,114.22L666.30,114.01L666.55,114.04L666.80,114.30L667.05,114.78L667.30,115.49L667.55,116.43L667.80,117.59L668.05,118.97L668.30,120.58L668.55,122.40L668.80,124.43L669.05,126.68L669.30,129.14L669.55,131.80L669.80,134.66L670.05,137.71L670.30,140.96L670.55,144.39L670.80,148.01L671.05,151.79L671.30,155.75L671.55,159.87L671.80,164.15L672.05,168.58L672.30,173.14L672.55,177.85L672.80,182.68L673.05,187.64L673.30,192.71L673.55,197.88L673.80,203.15L674.05,208.51L674.30,213.95L674.55,219.47L674.80,225.05L675.05,230.68L675.30,236.36L675.55,242.07L675.80,247.82L676.05,253.58L676.30,259.36L676.55,265.14L676.80,270.91L677.05,276.66L677.30,282.39L677.55,288.09L677.80,293.74L678.05,299.34L678.30,304.88L678.55,310.35L678.80,315.74L679.05,321.05L679.30,326.26L679.55,331.38L679.80,336.38L680.05,341.26L680.30,346.02L680.55,350.64L680.80,355.12L681.05,359.46L681.30,363.65L681.55,367.67L681.80,371.52L682.05,375.21L682.30,378.71L682.55,382.03L682.80,385.17L683.05,388.10L683.30,390.84L683.55,393.38L683.80,395.71L684.05,397.83L684.30,399.74L684.55,401.43L684.80,402.90L685.05,404.15L685.30,405.17L685.55,405.97L685.80,406.55L686.05,406.90L686.30,407.02L686.55,406.91L686.80,406.58L687.05,406.03L687.30,405.26L687.55,404.27L687.80,403.06L688.05,401.63L688.30,399.99L688.55,398.14L688.80,396.08L689.05,393.82L689.30,391.35L689.55,388.69L689.80,385.83L690.05,382.78L690.30,379.55L690.55,376.14L690.80,372.56L691.05,368.81L691.30,364.90L691.55,360.84L691.80,356.62L692.05,352.27L692.30,347.78L692.55,343.16L692.80,338.42L693.05,333.57L693.30,328.61L693.55,323.56L693.80,318.42L694.05,313.20L694.30,307.90L694.55,302.55L694.80,297.13L695.05,291.67L695.30,286.18L695.55,280.65L695.80,275.11L696.05,269.56L696.30,264.00L696.55,258.45L696.80,252.92L697.05,247.41L697.30,241.93L697.55,236.50L697.80,231.12L698.05,225.79L698.30,220.54L698.55,215.36L698.80,210.27L699.05,205.28L699.30,200.38L699.55,195.59L699.80,190.92L700.05,186.37L700.30,181.96L700.55,177.68L700.80,173.55L701.05,169.58L701.30,165.76L701.55,162.10L701.80,158.62L702.05,155.31L702.30,152.19L702.30,431.50Z" fill="#a1b3fd"/>
<rect x="48" y="57.2" width="2" height="408.5" fill="#111"/>
<rect x="742" y="59.5" width="2" height="406.2" fill="#111"/>
<line x1="45.5" y1="447.33" x2="48" y2="447.33" stroke="#222" stroke-width="1"/>
<line x1="45.5" y1="427.67" x2="48" y2="427.67" stroke="#222" stroke-width="1"/>
<line x1="42" y1="408.00" x2="48" y2="408.00" stroke="#222" stroke-width="1"/>
<text class="t9" x="35.6" y="411.90" text-anchor="end">0 m</text>
<line x1="45.5" y1="388.33" x2="48" y2="388.33" stroke="#222" stroke-width="1"/>
<line x1="45.5" y1="368.67" x2="48" y2="368.67" stroke="#222" stroke-width="1"/>
<line x1="45.5" y1="349.00" x2="48" y2="349.00" stroke="#222" stroke-width="1"/>
<line x1="45.5" y1="329.34" x2="48" y2="329.34" stroke="#222" stroke-width="1"/>
<line x1="42" y1="309.67" x2="48" y2="309.67" stroke="#222" stroke-width="1"/>
<text class="t9" x="35.6" y="313.57" text-anchor="end">1 m</text>
<line x1="45.5" y1="290.00" x2="48" y2="290.00" stroke="#222" stroke-width="1"/>
<line x1="45.5" y1="270.34" x2="48" y2="270.34" stroke="#222" stroke-width="1"/>
<line x1="45.5" y1="250.67" x2="48" y2="250.67" stroke="#222" stroke-width="1"/>
<line x1="45.5" y1="231.01" x2="48" y2="231.01" stroke="#222" stroke-width="1"/>
<line x1="42" y1="211.34" x2="48" y2="211.34" stroke="#222" stroke-width="1"/>
<text class="t9" x="35.6" y="215.24" text-anchor="end">2 m</text>
<line x1="45.5" y1="191.67" x2="48" y2="191.67" stroke="#222" stroke-width="1"/>
<line x1="45.5" y1="172.01" x2="48" y2="172.01" stroke="#222" stroke-width="1"/>
<line x1="45.5" y1="152.34" x2="48" y2="152.34" stroke="#222" stroke-width="1"/>
<line x1="45.5" y1="132.68" x2="48" y2="132.68" stroke="#222" stroke-width="1"/>
<line x1="42" y1="113.01" x2="48" y2="113.01" stroke="#222" stroke-width="1"/>
<text class="t9" x="35.6" y="116.91" text-anchor="end">3 m</text>
<line x1="45.5" y1="93.34" x2="48" y2="93.34" stroke="#222" stroke-width="1"/>
<line x1="45.5" y1="73.68" x2="48" y2="73.68" stroke="#222" stroke-width="1"/>
<line x1="744" y1="453.35" x2="747" y2="453.35" stroke="#222" stroke-width="1"/>
<line x1="744" y1="438.43" x2="750" y2="438.43" stroke="#222" stroke-width="1"/>
<text class="t9" x="781" y="443.38" text-anchor="end">−1 ft</text>
<line x1="744" y1="423.52" x2="747" y2="423.52" stroke="#222" stroke-width="1"/>
<line x1="744" y1="408.60" x2="750" y2="408.60" stroke="#222" stroke-width="1"/>
<text class="t9" x="781" y="413.55" text-anchor="end">0 ft</text>
<line x1="744" y1="393.69" x2="747" y2="393.69" stroke="#222" stroke-width="1"/>
<line x1="744" y1="378.77" x2="750" y2="378.77" stroke="#222" stroke-width="1"/>
<text class="t9" x="781" y="383.72" text-anchor="end">1 ft</text>
<line x1="744" y1="363.86" x2="747" y2="363.86" stroke="#222" stroke-width="1"/>
<line x1="744" y1="348.94" x2="750" y2="348.94" stroke="#222" stroke-width="1"/>
<text class="t9" x="781" y="353.89" text-anchor="end">2 ft</text>
<line x1="744" y1="334.03" x2="747" y2="334.03" stroke="#222" stroke-width="1"/>
<line x1="744" y1="319.11" x2="750" y2="319.11" stroke="#222" stroke-width="1"/>
<text class="t9" x="781" y="324.06" text-anchor="end">3 ft</text>
<line x1="744" y1="304.20" x2="747" y2="304.20" stroke="#222" stroke-width="1"/>
<line x1="744" y1="289.28" x2="750" y2="289.28" stroke="#222" stroke-width="1"/>
<text class="t9" x="781" y="294.23" text-anchor="end">4 ft</text>
<line x1="744" y1="274.37" x2="747" y2="274.37" stroke="#222" stroke-width="1"/>
<line x1="744" y1="259.45" x2="750" y2="259.45" stroke="#222" stroke-width="1"/>
<text class="t9" x="781" y="264.40" text-anchor="end">5 ft</text>
<line x1="744" y1="244.54" x2="747" y2="244.54" stroke="#222" stroke-width="1"/>
<line x1="744" y1="229.62" x2="750" y2="229.62" stroke="#222" stroke-width="1"/>
<text class="t9" x="781" y="234.57" text-anchor="end">6 ft</text>
<line x1="744" y1="214.71" x2="747" y2="214.71" stroke="#222" stroke-width="1"/>
<line x1="744" y1="199.79" x2="750" y2="199.79" stroke="#222" stroke-width="1"/>
<text class="t9" x="781" y="204.74" text-anchor="end">7 ft</text>
<line x1="744" y1="184.88" x2="747" y2="184.88" stroke="#222" stroke-width="1"/>
<line x1="744" y1="169.96" x2="750" y2="169.96" stroke="#222" stroke-width="1"/>
<text class="t9" x="781" y="174.91" text-anchor="end">8 ft</text>
<line x1="744" y1="155.05" x2="747" y2="155.05" stroke="#222" stroke-width="1"/>
<line x1="744" y1="140.13" x2="750" y2="140.13" stroke="#222" stroke-width="1"/>
<text class="t9" x="781" y="145.08" text-anchor="end">9 ft</text>
<line x1="744" y1="125.22" x2="747" y2="125.22" stroke="#222" stroke-width="1"/>
<line x1="744" y1="110.30" x2="750" y2="110.30" stroke="#222" stroke-width="1"/>
<text class="t9" x="781" y="115.25" text-anchor="end">10 ft</text>
<line x1="744" y1="95.39" x2="747" y2="95.39" stroke="#222" stroke-width="1"/>
<line x1="744" y1="80.47" x2="750" y2="80.47" stroke="#222" stroke-width="1"/>
<text class="t9" x="781" y="85.42" text-anchor="end">11 ft</text>
<line x1="744" y1="65.56" x2="747" y2="65.56" stroke="#222" stroke-width="1"/>
<text y="13.9" class="" style="font-size:16.3px"><tspan x="237.6">Punakaiki:</tspan> <tspan x="319.1">falling</tspan> <tspan x="370.2">spring</tspan> <tspan x="421.3">tide</tspan> <tspan x="452.4">at</tspan> <tspan x="471.4">2.4m</tspan> <tspan x="513.5">(8.0ft)</tspan></text>
<text y="28.3" class="t8" style="font-weight:bold"><tspan x="161.7">Image</tspan> <tspan x="196.6">captured</tspan> <tspan x="245.7">One</tspan> <tspan x="269.6">hour</tspan> <tspan x="297.0">and</tspan> <tspan x="319.3">48</tspan> <tspan x="335.0">minutes</tspan> <tspan x="379.7">after</tspan> <tspan x="407.0">high</tspan> <tspan x="432.4">water.</tspan> <tspan x="467.7">Times</tspan> <tspan x="502.1">are</tspan> <tspan x="521.6">NZDT</tspan> <tspan x="554.6">(UTC</tspan> <tspan x="583.8">+13.0hrs)</tspan></text>
<text class="t8 red" x="86.50" y="41.6" text-anchor="middle">Tue</text>
<text class="t8 red" x="86.50" y="52.8" text-anchor="middle">25–Mar</text>
<text class="t8 red" x="162.97" y="41.6" text-anchor="middle">Wed</text>
<text class="t8 red" x="162.97" y="52.8" text-anchor="middle">26–Mar</text>
<text class="t8 red" x="239.44" y="41.6" text-anchor="middle">Thu</text>
<text class="t8 red" x="239.44" y="52.8" text-anchor="middle">27–Mar</text>
<text class="t8 red" x="315.90" y="41.6" text-anchor="middle">Fri</text>
<text class="t8 red" x="315.90" y="52.8" text-anchor="middle">28–Mar</text>
<text class="t8 red" x="392.38" y="41.6" text-anchor="middle">Sat</text>
<text class="t8 red" x="392.38" y="52.8" text-anchor="middle">29–Mar</text>
<text class="t8 red" x="468.84" y="41.6" text-anchor="middle">Sun</text>
<text class="t8 red" x="468.84" y="52.8" text-anchor="middle">30–Mar</text>
<text class="t8 red" x="545.32" y="41.6" text-anchor="middle">Mon</text>
<text class="t8 red" x="545.32" y="52.8" text-anchor="middle">31–Mar</text>
<text class="t8 red" x="621.78" y="41.6" text-anchor="middle">Tue</text>
<text class="t8 red" x="621.78" y="52.8" text-anchor="middle">01–Apr</text>
<text class="t8 red" x="698.25" y="41.6" text-anchor="middle">Wed</text>
<text class="t8 red" x="698.25" y="52.8" text-anchor="middle">02–Apr</text>
<circle cx="114.11" cy="180.86" r="1.8" fill="#000"/>
<text class="t7" x="114.11" y="159.96" text-anchor="middle">8:40 pm</text>
<text class="t7" x="114.11" y="167.56" text-anchor="middle">7.6 ft</text>
<text class="t7" x="114.11" y="177.16" text-anchor="middle">2.31 m</text>
<circle cx="133.60" cy="345.07" r="1.8" fill="#000"/>
<text class="t7" x="133.60" y="355.07" text-anchor="middle">0.64 m</text>
<text class="t7" x="133.60" y="365.77" text-anchor="middle">2.1 ft</text>
<text class="t7" x="133.60" y="374.17" text-anchor="middle">2:47 am</text>
<circle cx="153.51" cy="163.16" r="1.8" fill="#000"/>
<text class="t7" x="153.51" y="140.76" text-anchor="middle">9:02 am</text>
<text class="t7" x="153.51" y="149.86" text-anchor="middle">8.2 ft</text>
<text class="t7" x="153.51" y="159.46" text-anchor="middle">2.49 m</text>
<circle cx="173.48" cy="366.70" r="1.8" fill="#000"/>
<text class="t7" x="173.48" y="376.70" text-anchor="middle">0.42 m</text>
<text class="t7" x="173.48" y="387.40" text-anchor="middle">1.4 ft</text>
<text class="t7" x="173.48" y="396.70" text-anchor="middle">3:18 pm</text>
<circle cx="193.45" cy="159.23" r="1.8" fill="#000"/>
<text class="t7" x="193.45" y="138.33" text-anchor="middle">9:34 pm</text>
<text class="t7" x="193.45" y="145.93" text-anchor="middle">8.3 ft</text>
<text class="t7" x="193.45" y="155.53" text-anchor="middle">2.53 m</text>
<circle cx="212.83" cy="368.67" r="1.8" fill="#000"/>
<text class="t7" x="212.83" y="378.67" text-anchor="middle">0.40 m</text>
<text class="t7" x="212.83" y="389.37" text-anchor="middle">1.3 ft</text>
<text class="t7" x="212.83" y="397.77" text-anchor="middle">3:39 am</text>
<circle cx="232.64" cy="138.58" r="1.8" fill="#000"/>
<text class="t7" x="232.64" y="116.18" text-anchor="middle">9:52 am</text>
<text class="t7" x="232.64" y="125.28" text-anchor="middle">9.0 ft</text>
<text class="t7" x="232.64" y="134.88" text-anchor="middle">2.74 m</text>
<circle cx="252.55" cy="391.28" r="1.8" fill="#000"/>
<text class="t7" x="252.55" y="401.28" text-anchor="middle">0.17 m</text>
<text class="t7" x="252.55" y="411.98" text-anchor="middle">0.6 ft</text>
<text class="t7" x="252.55" y="421.28" text-anchor="middle">4:07 pm</text>
<circle cx="272.36" cy="137.59" r="1.8" fill="#000"/>
<text class="t7" x="272.36" y="116.69" text-anchor="middle">10:20 pm</text>
<text class="t7" x="272.36" y="124.29" text-anchor="middle">9.0 ft</text>
<text class="t7" x="272.36" y="133.89" text-anchor="middle">2.75 m</text>
<circle cx="291.80" cy="391.28" r="1.8" fill="#000"/>
<text class="t7" x="291.80" y="401.28" text-anchor="middle">0.17 m</text>
<text class="t7" x="291.80" y="411.98" text-anchor="middle">0.6 ft</text>
<text class="t7" x="291.80" y="420.38" text-anchor="middle">4:26 am</text>
<circle cx="311.55" cy="116.94" r="1.8" fill="#000"/>
<text class="t7" x="311.55" y="94.54" text-anchor="middle">10:38 am</text>
<text class="t7" x="311.55" y="103.64" text-anchor="middle">9.7 ft</text>
<text class="t7" x="311.55" y="113.24" text-anchor="middle">2.96 m</text>
<circle cx="331.46" cy="412.92" r="1.8" fill="#000"/>
<text class="t7" x="331.46" y="422.92" text-anchor="middle">−0.05 m</text>
<text class="t7" x="331.46" y="433.62" text-anchor="middle">−0.2 ft</text>
<text class="t7" x="331.46" y="442.92" text-anchor="middle">4:53 pm</text>
<circle cx="351.22" cy="118.91" r="1.8" fill="#000"/>
<text class="t7" x="351.22" y="98.01" text-anchor="middle">11:05 pm</text>
<text class="t7" x="351.22" y="105.61" text-anchor="middle">9.6 ft</text>
<text class="t7" x="351.22" y="115.21" text-anchor="middle">2.94 m</text>
<circle cx="370.66" cy="409.97" r="1.8" fill="#000"/>
<text class="t7" x="370.66" y="419.97" text-anchor="middle">−0.02 m</text>
<text class="t7" x="370.66" y="430.67" text-anchor="middle">−0.1 ft</text>
<text class="t7" x="370.66" y="439.07" text-anchor="middle">5:11 am</text>
<circle cx="390.36" cy="100.23" r="1.8" fill="#000"/>
<text class="t7" x="390.36" y="77.83" text-anchor="middle">11:22 am</text>
<text class="t7" x="390.36" y="86.93" text-anchor="middle">10.3 ft</text>
<text class="t7" x="390.36" y="96.53" text-anchor="middle">3.13 m</text>
<circle cx="410.27" cy="426.68" r="1.8" fill="#000"/>
<text class="t7" x="410.27" y="436.68" text-anchor="middle">−0.19 m</text>
<text class="t7" x="410.27" y="447.38" text-anchor="middle">−0.6 ft</text>
<text class="t7" x="410.27" y="456.68" text-anchor="middle">5:37 pm</text>
<circle cx="429.97" cy="106.13" r="1.8" fill="#000"/>
<text class="t7" x="429.97" y="85.23" text-anchor="middle">11:48 pm</text>
<text class="t7" x="429.97" y="92.83" text-anchor="middle">10.1 ft</text>
<text class="t7" x="429.97" y="102.43" text-anchor="middle">3.07 m</text>
<circle cx="449.46" cy="422.75" r="1.8" fill="#000"/>
<text class="t7" x="449.46" y="432.75" text-anchor="middle">−0.15 m</text>
<text class="t7" x="449.46" y="443.45" text-anchor="middle">−0.5 ft</text>
<text class="t7" x="449.46" y="451.85" text-anchor="middle">5:55 am</text>
<circle cx="469.22" cy="91.38" r="1.8" fill="#000"/>
<text class="t7" x="469.22" y="70.48" text-anchor="middle">12:07 pm</text>
<text class="t7" x="469.22" y="78.08" text-anchor="middle">10.6 ft</text>
<text class="t7" x="469.22" y="87.68" text-anchor="middle">3.22 m</text>
<circle cx="489.08" cy="431.60" r="1.8" fill="#000"/>
<text class="t7" x="489.08" y="441.60" text-anchor="middle">−0.24 m</text>
<text class="t7" x="489.08" y="452.30" text-anchor="middle">−0.8 ft</text>
<text class="t7" x="489.08" y="461.60" text-anchor="middle">6:21 pm</text>
<circle cx="508.73" cy="100.23" r="1.8" fill="#000"/>
<text class="t7" x="508.73" y="77.83" text-anchor="middle">12:31 am</text>
<text class="t7" x="508.73" y="86.93" text-anchor="middle">10.3 ft</text>
<text class="t7" x="508.73" y="96.53" text-anchor="middle">3.13 m</text>
<circle cx="528.32" cy="425.70" r="1.8" fill="#000"/>
<text class="t7" x="528.32" y="435.70" text-anchor="middle">−0.18 m</text>
<text class="t7" x="528.32" y="446.40" text-anchor="middle">−0.6 ft</text>
<text class="t7" x="528.32" y="454.80" text-anchor="middle">6:40 am</text>
<circle cx="548.02" cy="93.34" r="1.8" fill="#000"/>
<text class="t7" x="548.02" y="72.44" text-anchor="middle">12:51 pm</text>
<text class="t7" x="548.02" y="80.04" text-anchor="middle">10.5 ft</text>
<text class="t7" x="548.02" y="89.64" text-anchor="middle">3.20 m</text>
<circle cx="567.88" cy="425.70" r="1.8" fill="#000"/>
<text class="t7" x="567.88" y="435.70" text-anchor="middle">−0.18 m</text>
<text class="t7" x="567.88" y="446.40" text-anchor="middle">−0.6 ft</text>
<text class="t7" x="567.88" y="455.70" text-anchor="middle">7:05 pm</text>
<circle cx="587.53" cy="103.18" r="1.8" fill="#000"/>
<text class="t7" x="587.53" y="80.78" text-anchor="middle">1:15 am</text>
<text class="t7" x="587.53" y="89.88" text-anchor="middle">10.2 ft</text>
<text class="t7" x="587.53" y="99.48" text-anchor="middle">3.10 m</text>
<circle cx="607.23" cy="420.78" r="1.8" fill="#000"/>
<text class="t7" x="607.23" y="430.78" text-anchor="middle">−0.13 m</text>
<text class="t7" x="607.23" y="441.48" text-anchor="middle">−0.4 ft</text>
<text class="t7" x="607.23" y="449.88" text-anchor="middle">7:26 am</text>
<circle cx="626.99" cy="104.16" r="1.8" fill="#000"/>
<text class="t7" x="626.99" y="83.26" text-anchor="middle">1:38 pm</text>
<text class="t7" x="626.99" y="90.86" text-anchor="middle">10.1 ft</text>
<text class="t7" x="626.99" y="100.46" text-anchor="middle">3.09 m</text>
<circle cx="646.80" cy="411.93" r="1.8" fill="#000"/>
<text class="t7" x="646.80" y="421.93" text-anchor="middle">−0.04 m</text>
<text class="t7" x="646.80" y="432.63" text-anchor="middle">−0.1 ft</text>
<text class="t7" x="646.80" y="441.93" text-anchor="middle">7:51 pm</text>
<circle cx="666.39" cy="113.99" r="1.8" fill="#000"/>
<text class="t7" x="666.39" y="91.59" text-anchor="middle">2:00 am</text>
<text class="t7" x="666.39" y="100.69" text-anchor="middle">9.8 ft</text>
<text class="t7" x="666.39" y="110.29" text-anchor="middle">2.99 m</text>
<circle cx="686.31" cy="407.02" r="1.8" fill="#000"/>
<text class="t7" x="686.31" y="417.02" text-anchor="middle">0.01 m</text>
<text class="t7" x="686.31" y="427.72" text-anchor="middle">0.0 ft</text>
<text class="t7" x="686.31" y="436.12" text-anchor="middle">8:15 am</text>
<path d="M391.7,169.4L400.9,169.4L396.4,177.4Z" fill="#cccc33" stroke="#5a3a10" stroke-width="0.7"/>
<text x="45.5" y="479.8" text-anchor="end" style="font-size:11px">Sunrise</text>
<text x="746.4" y="479.8" style="font-size:11px">Sunrise</text>
<text x="45.5" y="493.6" text-anchor="end" style="font-size:11px">Sunset</text>
<text x="746.4" y="493.6" style="font-size:11px">Sunset</text>
<text x="45.5" y="507.2" text-anchor="end" style="font-size:11px">Moonrise</text>
<text x="746.4" y="507.2" style="font-size:11px">Moonrise</text>
<text x="45.5" y="520.6" text-anchor="end" style="font-size:11px">Moonset</text>
<text x="746.4" y="520.6" style="font-size:11px">Moonset</text>
<polygon points="149.32,468.60 150.96,473.43 156.07,473.51 151.98,476.57 153.49,481.44 149.32,478.50 145.14,481.44 146.65,476.57 142.56,473.51 147.67,473.43" fill="#6f6a12" stroke="#4a4400" stroke-width="0.4"/><circle cx="149.32" cy="475.90" r="4.2" fill="#cccc33" stroke="#8a6410" stroke-width="0.6"/>
<text class="t7" x="156.42" y="479.3">7:43am</text>
<polygon points="225.84,468.60 227.49,473.43 232.59,473.51 228.50,476.57 230.01,481.44 225.84,478.50 221.67,481.44 223.18,476.57 219.09,473.51 224.19,473.43" fill="#6f6a12" stroke="#4a4400" stroke-width="0.4"/><circle cx="225.84" cy="475.90" r="4.2" fill="#cccc33" stroke="#8a6410" stroke-width="0.6"/>
<text class="t7" x="232.94" y="479.3">7:44am</text>
<polygon points="302.36,468.60 304.01,473.43 309.12,473.51 305.03,476.57 306.54,481.44 302.36,478.50 298.19,481.44 299.70,476.57 295.61,473.51 300.72,473.43" fill="#6f6a12" stroke="#4a4400" stroke-width="0.4"/><circle cx="302.36" cy="475.90" r="4.2" fill="#cccc33" stroke="#8a6410" stroke-width="0.6"/>
<text class="t7" x="309.46" y="479.3">7:45am</text>
<polygon points="378.89,468.60 380.53,473.43 385.64,473.51 381.55,476.57 383.06,481.44 378.89,478.50 374.71,481.44 376.22,476.57 372.13,473.51 377.24,473.43" fill="#6f6a12" stroke="#4a4400" stroke-width="0.4"/><circle cx="378.89" cy="475.90" r="4.2" fill="#cccc33" stroke="#8a6410" stroke-width="0.6"/>
<text class="t7" x="385.99" y="479.3">7:46am</text>
<polygon points="455.41,468.60 457.06,473.43 462.16,473.51 458.07,476.57 459.58,481.44 455.41,478.50 451.24,481.44 452.75,476.57 448.66,473.51 453.76,473.43" fill="#6f6a12" stroke="#4a4400" stroke-width="0.4"/><circle cx="455.41" cy="475.90" r="4.2" fill="#cccc33" stroke="#8a6410" stroke-width="0.6"/>
<text class="t7" x="462.51" y="479.3">7:47am</text>
<polygon points="531.93,468.60 533.58,473.43 538.69,473.51 534.60,476.57 536.11,481.44 531.93,478.50 527.76,481.44 529.27,476.57 525.18,473.51 530.29,473.43" fill="#6f6a12" stroke="#4a4400" stroke-width="0.4"/><circle cx="531.93" cy="475.90" r="4.2" fill="#cccc33" stroke="#8a6410" stroke-width="0.6"/>
<text class="t7" x="539.03" y="479.3">7:48am</text>
<polygon points="608.46,468.60 610.10,473.43 615.21,473.51 611.12,476.57 612.63,481.44 608.46,478.50 604.28,481.44 605.79,476.57 601.70,473.51 606.81,473.43" fill="#6f6a12" stroke="#4a4400" stroke-width="0.4"/><circle cx="608.46" cy="475.90" r="4.2" fill="#cccc33" stroke="#8a6410" stroke-width="0.6"/>
<text class="t7" x="615.56" y="479.3">7:49am</text>
<polygon points="685.03,468.60 686.68,473.43 691.78,473.51 687.70,476.57 689.21,481.44 685.03,478.50 680.86,481.44 682.37,476.57 678.28,473.51 683.39,473.43" fill="#6f6a12" stroke="#4a4400" stroke-width="0.4"/><circle cx="685.03" cy="475.90" r="4.2" fill="#cccc33" stroke="#8a6410" stroke-width="0.6"/>
<text class="t7" x="692.13" y="479.3">7:51am</text>
<polygon points="110.82,482.20 112.46,487.03 117.57,487.11 113.48,490.17 114.99,495.04 110.82,492.10 106.64,495.04 108.15,490.17 104.06,487.11 109.17,487.03" fill="#6f6a12" stroke="#4a4400" stroke-width="0.4"/><circle cx="110.82" cy="489.50" r="4.2" fill="#b8734d" stroke="#8a6410" stroke-width="0.6"/>
<text class="t7" x="117.92" y="493.3">7:38pm</text>
<polygon points="187.18,482.20 188.83,487.03 193.93,487.11 189.84,490.17 191.35,495.04 187.18,492.10 183.01,495.04 184.52,490.17 180.43,487.11 185.53,487.03" fill="#6f6a12" stroke="#4a4400" stroke-width="0.4"/><circle cx="187.18" cy="489.50" r="4.2" fill="#b8734d" stroke="#8a6410" stroke-width="0.6"/>
<text class="t7" x="194.28" y="493.3">7:36pm</text>
<polygon points="263.60,482.20 265.24,487.03 270.35,487.11 266.26,490.17 267.77,495.04 263.60,492.10 259.42,495.04 260.93,490.17 256.84,487.11 261.95,487.03" fill="#6f6a12" stroke="#4a4400" stroke-width="0.4"/><circle cx="263.60" cy="489.50" r="4.2" fill="#b8734d" stroke="#8a6410" stroke-width="0.6"/>
<text class="t7" x="270.70" y="493.3">7:35pm</text>
<polygon points="339.96,482.20 341.61,487.03 346.71,487.11 342.62,490.17 344.13,495.04 339.96,492.10 335.79,495.04 337.30,490.17 333.21,487.11 338.32,487.03" fill="#6f6a12" stroke="#4a4400" stroke-width="0.4"/><circle cx="339.96" cy="489.50" r="4.2" fill="#b8734d" stroke="#8a6410" stroke-width="0.6"/>
<text class="t7" x="347.06" y="493.3">7:33pm</text>
<polygon points="416.32,482.20 417.97,487.03 423.08,487.11 418.99,490.17 420.50,495.04 416.32,492.10 412.15,495.04 413.66,490.17 409.57,487.11 414.68,487.03" fill="#6f6a12" stroke="#4a4400" stroke-width="0.4"/><circle cx="416.32" cy="489.50" r="4.2" fill="#b8734d" stroke="#8a6410" stroke-width="0.6"/>
<text class="t7" x="423.42" y="493.3">7:31pm</text>
<polygon points="492.69,482.20 494.33,487.03 499.44,487.11 495.35,490.17 496.86,495.04 492.69,492.10 488.52,495.04 490.03,490.17 485.94,487.11 491.04,487.03" fill="#6f6a12" stroke="#4a4400" stroke-width="0.4"/><circle cx="492.69" cy="489.50" r="4.2" fill="#b8734d" stroke="#8a6410" stroke-width="0.6"/>
<text class="t7" x="499.79" y="493.3">7:29pm</text>
<polygon points="569.11,482.20 570.75,487.03 575.86,487.11 571.77,490.17 573.28,495.04 569.11,492.10 564.93,495.04 566.44,490.17 562.35,487.11 567.46,487.03" fill="#6f6a12" stroke="#4a4400" stroke-width="0.4"/><circle cx="569.11" cy="489.50" r="4.2" fill="#b8734d" stroke="#8a6410" stroke-width="0.6"/>
<text class="t7" x="576.21" y="493.3">7:28pm</text>
<polygon points="645.47,482.20 647.12,487.03 652.22,487.11 648.13,490.17 649.64,495.04 645.47,492.10 641.30,495.04 642.81,490.17 638.72,487.11 643.82,487.03" fill="#6f6a12" stroke="#4a4400" stroke-width="0.4"/><circle cx="645.47" cy="489.50" r="4.2" fill="#b8734d" stroke="#8a6410" stroke-width="0.6"/>
<text class="t7" x="652.57" y="493.3">7:26pm</text>
<circle cx="134.77" cy="502.85" r="5" fill="#ffffcc" stroke="#707070" stroke-width="0.9"/>
<text class="t7" x="141.87" y="506.3">3:09am</text>
<circle cx="215.27" cy="502.85" r="5" fill="#ffffcc" stroke="#707070" stroke-width="0.9"/>
<text class="t7" x="222.37" y="506.3">4:25am</text>
<circle cx="295.88" cy="502.85" r="5" fill="#ffffcc" stroke="#707070" stroke-width="0.9"/>
<text class="t7" x="302.98" y="506.3">5:43am</text>
<circle cx="376.50" cy="502.85" r="5" fill="#ffffcc" stroke="#707070" stroke-width="0.9"/>
<text class="t7" x="383.60" y="506.3">7:01am</text>
<circle cx="457.22" cy="502.85" r="5" fill="#ffffcc" stroke="#707070" stroke-width="0.9"/>
<text class="t7" x="464.32" y="506.3">8:21am</text>
<circle cx="537.99" cy="502.85" r="5" fill="#ffffcc" stroke="#707070" stroke-width="0.9"/>
<text class="t7" x="545.09" y="506.3">9:42am</text>
<circle cx="618.86" cy="502.85" r="5" fill="#ffffcc" stroke="#707070" stroke-width="0.9"/>
<text class="t7" x="625.96" y="506.3">11:05am</text>
<circle cx="104.13" cy="516.5" r="5" fill="#c8cab4" stroke="#707070" stroke-width="0.9"/>
<text class="t7" x="111.23" y="520.2">5:32pm</text>
<circle cx="182.19" cy="516.5" r="5" fill="#c8cab4" stroke="#707070" stroke-width="0.9"/>
<text class="t7" x="189.29" y="520.2">6:02pm</text>
<circle cx="260.04" cy="516.5" r="5" fill="#c8cab4" stroke="#707070" stroke-width="0.9"/>
<text class="t7" x="267.14" y="520.2">6:28pm</text>
<circle cx="337.78" cy="516.5" r="5" fill="#c8cab4" stroke="#707070" stroke-width="0.9"/>
<text class="t7" x="344.88" y="520.2">6:52pm</text>
<circle cx="415.53" cy="516.5" r="5" fill="#c8cab4" stroke="#707070" stroke-width="0.9"/>
<text class="t7" x="422.63" y="520.2">7:16pm</text>
<circle cx="493.27" cy="516.5" r="5" fill="#c8cab4" stroke="#707070" stroke-width="0.9"/>
<text class="t7" x="500.37" y="520.2">7:40pm</text>
<circle cx="571.23" cy="516.5" r="5" fill="#c8cab4" stroke="#707070" stroke-width="0.9"/>
<text class="t7" x="578.33" y="520.2">8:08pm</text>
<circle cx="649.45" cy="516.5" r="5" fill="#c8cab4" stroke="#707070" stroke-width="0.9"/>
<text class="t7" x="656.55" y="520.2">8:41pm</text>
<text class="t7" x="381.9" y="533.1">New Moon <tspan dy="1.2">| 11:57pm</tspan></text>
</svg></body></html>
